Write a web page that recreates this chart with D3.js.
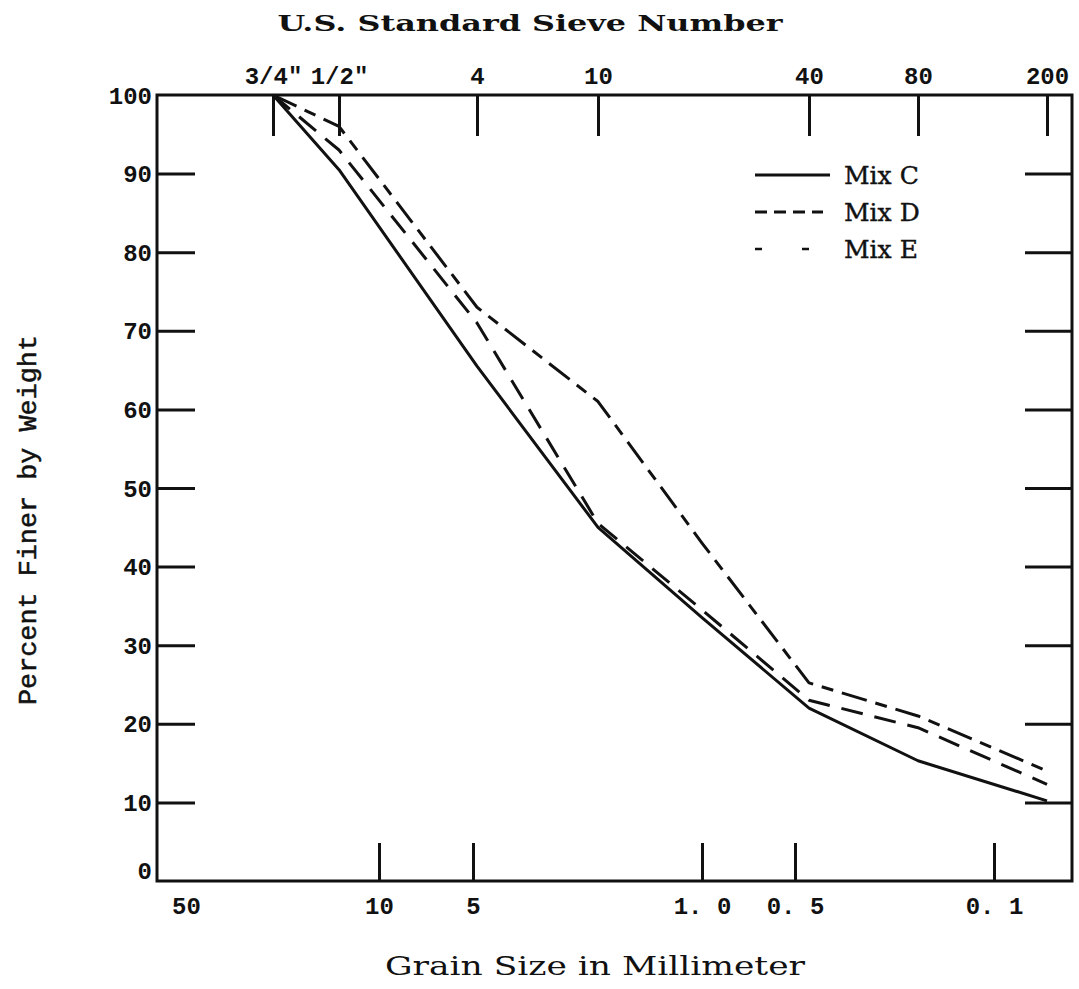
<!DOCTYPE html>
<html>
<head>
<meta charset="utf-8">
<script src="https://cdn.jsdelivr.net/npm/d3@7"></script>
<style>
  html, body { margin: 0; padding: 0; background: #fff; }
  svg { display: block; }
</style>
</head>
<body>
<svg id="chart" width="1079" height="989"></svg>
<script>
// Sieve openings (mm) printed along the top edge
const sieveMm = [19.0, 12.5, 4.75, 2.0, 0.425, 0.18, 0.075];
const sieveLabels = ['3/4"', '1/2"', '4', '10', '40', '80', '200'];

// Grain sizes (mm) printed along the bottom edge
const grainMm = [50, 10, 5, 1.0, 0.5, 0.1];
const grainLabels = ['50', '10', '5', '1. 0', '0. 5', '0. 1'];

// Percent finer axis
const percentTicks = [0, 10, 20, 30, 40, 50, 60, 70, 80, 90, 100];

// Grading curves: percent finer by weight at each sieve opening (mm)
const sampleMm = [19.0, 12.5, 4.75, 2.0, 1.0, 0.425, 0.18, 0.075];
const mixC = [100, 90.5, 65.5, 45, 33.5, 22, 15.3, 10.2];
const mixD = [100, 93, 71, 45.5, 34.5, 23, 19.5, 12.3];
const mixE = [100, 96, 73, 61, 43, 25.2, 21, 14];
const seriesNames = ['Mix C', 'Mix D', 'Mix E'];

// ---- layout ----
const frame = { left: 157, right: 1072, top: 95, bottom: 881 };
// The printed grain-size axis is a hand-ruled log scale; it is calibrated at its printed marks.
const axisCalMm = [60, 50, 19.0, 12.5, 10, 5, 4.75, 2.0, 1.0, 0.5, 0.425, 0.18, 0.1, 0.075, 0.066];
const axisCalPx = [157, 186, 273, 339, 379, 473, 477, 598, 702, 795, 809, 918, 994, 1047, 1072];

const x = d3.scaleLog().domain(axisCalMm).range(axisCalPx);
const y = d3.scaleLinear().domain([0, 100]).range([frame.bottom, frame.top]);

const svg = d3.select('#chart');
const ink = '#111';
const monoFont = '"Liberation Mono", "Courier New", monospace';
const serifFont = '"DejaVu Serif", "Liberation Serif", serif';

// frame
svg.append('rect')
  .attr('x', frame.left).attr('y', frame.top)
  .attr('width', frame.right - frame.left).attr('height', frame.bottom - frame.top)
  .attr('fill', 'none').attr('stroke', ink).attr('stroke-width', 3);

// left percent axis (ticks point inward, labels outside)
const leftAxis = d3.axisLeft(y).tickValues(percentTicks).tickSize(-38).tickSizeOuter(0).tickPadding(46)
  .tickFormat(d => String(d));
const gLeft = svg.append('g').attr('transform', `translate(${frame.left},0)`).call(leftAxis);
gLeft.select('.domain').remove();
gLeft.selectAll('.tick line')
  .attr('stroke', ink).attr('stroke-width', 3)
  .attr('display', d => (d === 0 || d === 100) ? 'none' : null);
gLeft.selectAll('.tick text')
  .attr('x', -5).attr('dy', d => d === 0 ? '-0.12em' : '0.34em')
  .attr('font-family', monoFont).attr('font-size', 24).attr('font-weight', 'bold').attr('fill', ink)
  .attr('text-anchor', 'end');

// right percent ticks (inward, no labels)
const rightAxis = d3.axisRight(y).tickValues(percentTicks.filter(d => d > 0 && d < 100))
  .tickSize(-47).tickSizeOuter(0).tickFormat('');
const gRight = svg.append('g').attr('transform', `translate(${frame.right},0)`).call(rightAxis);
gRight.select('.domain').remove();
gRight.selectAll('.tick line').attr('stroke', ink).attr('stroke-width', 3);

// top sieve axis
const topAxis = d3.axisTop(x).tickValues(sieveMm).tickSize(-41).tickSizeOuter(0)
  .tickFormat((d, i) => sieveLabels[i]);
const gTop = svg.append('g').attr('transform', `translate(0,${frame.top})`).call(topAxis);
gTop.select('.domain').remove();
gTop.selectAll('.tick line').attr('stroke', ink).attr('stroke-width', 3);
gTop.selectAll('.tick text')
  .attr('y', -11).attr('dy', 0)
  .attr('font-family', monoFont).attr('font-size', 24).attr('font-weight', 'bold').attr('fill', ink);

// bottom grain-size axis
const bottomAxis = d3.axisBottom(x).tickValues(grainMm).tickSize(-38).tickSizeOuter(0)
  .tickFormat((d, i) => grainLabels[i]);
const gBottom = svg.append('g').attr('transform', `translate(0,${frame.bottom})`).call(bottomAxis);
gBottom.select('.domain').remove();
gBottom.selectAll('.tick line')
  .attr('stroke', ink).attr('stroke-width', 3)
  .attr('display', d => d === 50 ? 'none' : null);
gBottom.selectAll('.tick text')
  .attr('y', 33).attr('dy', 0)
  .attr('font-family', monoFont).attr('font-size', 24).attr('font-weight', 'bold').attr('fill', ink);

// axis titles
svg.append('text')
  .attr('x', 530).attr('y', 31).attr('text-anchor', 'middle')
  .attr('font-family', serifFont).attr('font-size', 22).attr('font-weight', 'bold').attr('fill', ink)
  .attr('textLength', 505).attr('lengthAdjust', 'spacingAndGlyphs')
  .text('U.S. Standard Sieve Number');

svg.append('text')
  .attr('x', 595).attr('y', 975).attr('text-anchor', 'middle')
  .attr('font-family', serifFont).attr('font-size', 26).attr('fill', ink)
  .attr('textLength', 420).attr('lengthAdjust', 'spacingAndGlyphs')
  .text('Grain Size in Millimeter');

svg.append('text')
  .attr('transform', 'translate(36,520) rotate(-90)').attr('text-anchor', 'middle')
  .attr('font-family', monoFont).attr('font-size', 25).attr('fill', ink)
  .attr('stroke', ink).attr('stroke-width', 0.5)
  .attr('textLength', 370).attr('lengthAdjust', 'spacingAndGlyphs')
  .text('Percent Finer by Weight');

// grading curves
const seriesValues = [mixC, mixD, mixE];
const dashes = [null, '22,12', '26,9,12,9'];
const line = d3.line().x(d => x(d.mm)).y(d => y(d.v));

seriesValues.forEach((vals, k) => {
  const pts = sampleMm.map((mm, i) => ({ mm, v: vals[i] }));
  svg.append('path')
    .datum(pts)
    .attr('d', line)
    .attr('fill', 'none')
    .attr('stroke', ink)
    .attr('stroke-width', 3)
    .attr('stroke-linejoin', 'round')
    .attr('stroke-dasharray', dashes[k]);
});

// legend
const legendDash = [null, '12,7', '7,40'];
const legendWidth = [2.8, 3, 2.4];
const legendLen = [75, 68, 57];
const legend = svg.append('g').attr('transform', 'translate(755,175)');
seriesNames.forEach((name, k) => {
  const row = legend.append('g').attr('transform', `translate(0,${k * 37})`);
  row.append('line')
    .attr('x1', 0).attr('x2', legendLen[k]).attr('y1', 0).attr('y2', 0)
    .attr('stroke', ink).attr('stroke-width', legendWidth[k])
    .attr('stroke-dasharray', legendDash[k]);
  row.append('text')
    .attr('x', 89).attr('y', 9)
    .attr('font-family', serifFont).attr('font-size', 25).attr('fill', ink)
    .attr('stroke', ink).attr('stroke-width', 0.4)
    .text(name);
});
</script>
</body>
</html>
